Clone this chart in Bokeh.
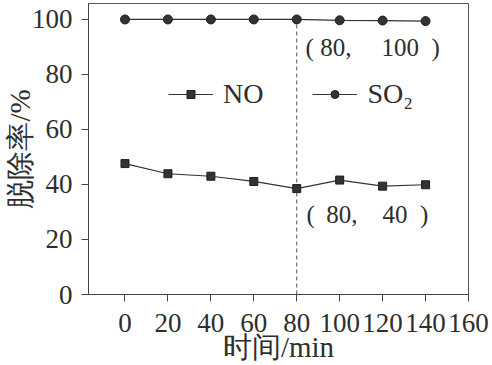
from bokeh.plotting import figure
from bokeh.models import Range1d, FixedTicker, Legend, LegendItem, Label
from bokeh.embed import file_html
from bokeh.resources import INLINE

# ---- data ----
time_min = [0, 20, 40, 60, 80, 100, 120, 140]
no_removal = [47.6, 43.9, 43.0, 41.1, 38.5, 41.6, 39.4, 39.9]
so2_removal = [100.0, 100.0, 100.0, 100.0, 100.0, 99.7, 99.6, 99.4]
x_ticks = [0, 20, 40, 60, 80, 100, 120, 140, 160]
y_ticks = [0, 20, 40, 60, 80, 100]
highlight_x = 80
highlight_top = 100
note_so2 = "( 80,\u2003\u2009100\u2002)"
note_no = "( \u200980,\u200340\u2002)"
x_label = "时间/min"
y_label = "脱除率/%"

SERIF = "Liberation Serif"
TXT = "#2e2e2e"
INK = "#333333"

p = figure(width=492, height=365,
           x_range=Range1d(-17, 160), y_range=Range1d(0, 105.8),
           output_backend="svg", toolbar_location=None,
           min_border_left=88, min_border_right=24,
           min_border_top=3, min_border_bottom=70)

p.xgrid.visible = False
p.ygrid.visible = False
p.background_fill_color = "white"
p.outline_line_color = "#555555"
p.outline_line_width = 1

for ax in (p.xaxis[0], p.yaxis[0]):
    ax.axis_line_color = "#444444"
    ax.major_tick_line_color = "#444444"
    ax.major_tick_out = 7
    ax.major_tick_in = 0
    ax.minor_tick_line_color = None
    ax.major_label_text_font = SERIF
    ax.major_label_text_font_size = "27px"
    ax.major_label_text_color = TXT
    ax.axis_label_text_font = SERIF
    ax.axis_label_text_font_style = "normal"
    ax.axis_label_text_color = TXT

p.xaxis.ticker = FixedTicker(ticks=x_ticks)
p.yaxis.ticker = FixedTicker(ticks=y_ticks)
p.xaxis.axis_label = x_label
p.yaxis.axis_label = y_label
p.xaxis.axis_label_text_font_size = "29px"
p.yaxis.axis_label_text_font_size = "29px"
p.xaxis.major_label_standoff = 12
p.xaxis.axis_label_standoff = -4
p.yaxis.major_label_standoff = 9
p.yaxis.axis_label_standoff = -7

# dashed guide at the highlighted time
p.segment(x0=[highlight_x], y0=[0], x1=[highlight_x], y1=[highlight_top],
          line_color="#555555", line_width=1, line_dash="4 3")

no_line = p.line(time_min, no_removal, line_color=INK, line_width=1.2)
no_pts = p.scatter(time_min, no_removal, marker="square", size=8,
                   fill_color=INK, line_color="#1e1e1e")
so2_line = p.line(time_min, so2_removal, line_color=INK, line_width=1.2)
so2_pts = p.scatter(time_min, so2_removal, marker="circle", size=9,
                    fill_color=INK, line_color="#1e1e1e")

legend = Legend(items=[LegendItem(label="NO", renderers=[no_line, no_pts]),
                       LegendItem(label="SO₂", renderers=[so2_line, so2_pts])],
                orientation="horizontal", location=(80, 184),
                glyph_width=45, glyph_height=20, label_standoff=10,
                spacing=49, padding=0, margin=0,
                border_line_color=None, background_fill_alpha=0,
                label_text_font=SERIF, label_text_font_size="28px",
                label_text_color=TXT, label_text_baseline="middle")
p.add_layout(legend)

p.add_layout(Label(x=84.1, y=89.9, text=note_so2, text_font=SERIF,
                   text_font_size="25px", text_color=TXT,
                   text_baseline="middle", text_align="left"))
p.add_layout(Label(x=84.6, y=29.0, text=note_no, text_font=SERIF,
                   text_font_size="25px", text_color=TXT,
                   text_baseline="middle", text_align="left"))

open("out.html", "w").write(file_html(p, INLINE))
